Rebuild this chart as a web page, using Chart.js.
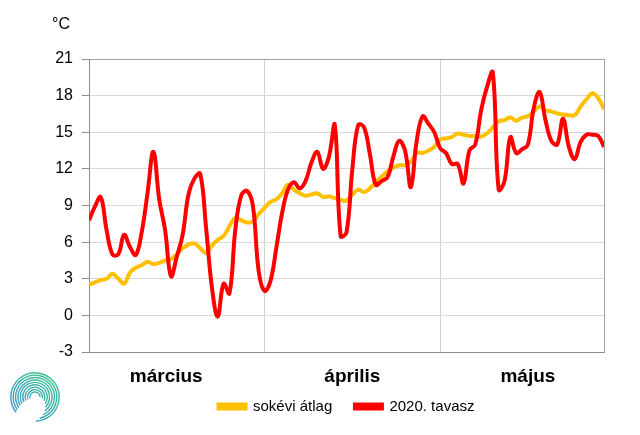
<!DOCTYPE html>
<html>
<head>
<meta charset="utf-8">
<script src="https://cdn.jsdelivr.net/npm/chart.js@4.4.1/dist/chart.umd.min.js"></script>
<style>
  body { margin: 0; background: #fff; }
  #wrap { width: 640px; height: 435px; position: relative; }
</style>
</head>
<body>
<div id="wrap"><canvas id="myChart"></canvas></div>
<script>
// day index 1 = március 1.
var avgTemp = [2.5, 2.7, 2.9, 3.0, 3.4, 3.0, 2.6, 3.5, 3.9, 4.1,
               4.4, 4.2, 4.3, 4.5, 4.6, 5.0, 5.5, 5.8, 5.9, 5.5,
               5.1, 5.7, 6.2, 6.5, 7.3, 8.0, 7.8, 7.6, 7.7, 8.3,
               8.8, 9.3, 9.5, 10.0, 10.7, 10.3, 10.0, 9.8, 9.9, 10.0,
               9.7, 9.75, 9.6, 9.45, 9.4, 9.9, 10.3, 10.1, 10.4, 10.9,
               11.35, 11.8, 12.1, 12.3, 12.3, 12.6, 13.3, 13.3, 13.5, 13.8,
               14.4, 14.5, 14.6, 14.9, 14.8, 14.7, 14.7, 14.65, 14.9, 15.4,
               15.9, 16.0, 16.2, 15.95, 16.2, 16.3, 16.7, 17.1, 16.8, 16.7,
               16.55, 16.45, 16.4, 16.4, 17.1, 17.7, 18.2, 17.8, 16.9];
var temp2020 = [7.8, 8.9, 9.7, 7.0, 5.0, 5.0, 6.6, 5.6, 4.95, 6.8,
                10.0, 13.4, 9.5, 7.0, 3.2, 4.8, 6.6, 9.9, 11.2, 11.6,
                7.2, 2.3, -0.1, 2.6, 1.8, 7.0, 9.8, 10.2, 9.0, 3.6,
                2.0, 2.8, 5.5, 8.4, 10.3, 10.9, 10.4, 11.0, 12.5, 13.4,
                12.0, 13.0, 15.6, 6.5, 6.8, 12.0, 15.6, 15.4, 13.2, 10.7,
                11.0, 11.3, 13.0, 14.3, 13.5, 10.5, 14.3, 16.3, 15.7, 15.0,
                13.7, 13.3, 12.4, 12.4, 10.8, 13.5, 14.0, 16.8, 18.7, 19.9,
                10.3, 11.0, 14.6, 13.3, 13.6, 14.0, 17.0, 18.3, 16.0, 14.3,
                14.0, 16.1, 13.8, 12.8, 14.2, 14.8, 14.8, 14.7, 13.8];

var monthNames = ['március', 'április', 'május'];
var monthLabelAt = [14.2, 46, 76];
var monthStarts = [31, 61];
var seriesNames = ['sokévi átlag', '2020. tavasz'];

var FONT = '"Liberation Sans", Arial, sans-serif';

function toPoints(arr) {
  return arr.map(function (v, i) { return { x: i + 1, y: v }; });
}

var extras = {
  id: 'extras',
  afterDraw: function (chart) {
    var ctx = chart.ctx;
    var area = chart.chartArea;
    ctx.save();
    ctx.fillStyle = '#000';
    ctx.font = '16px ' + FONT;
    ctx.textBaseline = 'middle';
    ctx.textAlign = 'left';
    ctx.fillText('°C', area.left - 37, area.top - 34);

    // spiral logo, bottom left
    var cx = 35, cy = 397;
    var grad = ctx.createLinearGradient(cx + 20, cy - 24, cx - 20, cy + 24);
    grad.addColorStop(0, '#3fc48a');
    grad.addColorStop(1, '#3a94d4');
    ctx.strokeStyle = grad;
    ctx.lineWidth = 1.4;
    for (var i = 0; i < 9; i++) {
      var r = 5 + i * 2.4;
      var a0 = (165 - i * 3) * Math.PI / 180;
      var a1 = (360 + i * 11) * Math.PI / 180;
      ctx.beginPath();
      ctx.arc(cx, cy, r, a0, a1);
      ctx.stroke();
    }
    ctx.restore();
  }
};

new Chart('myChart', {
  type: 'line',
  data: {
    datasets: [{
      label: seriesNames[0],
      data: toPoints(avgTemp),
      borderColor: '#FFC000',
      backgroundColor: '#FFC000',
      borderWidth: 4,
      pointRadius: 0,
      tension: 0.4,
      order: 1
    },
    {
      label: seriesNames[1],
      data: toPoints(temp2020),
      borderColor: '#FF0000',
      backgroundColor: '#FF0000',
      borderWidth: 4,
      pointRadius: 0,
      tension: 0.4,
      order: 0
    }]
  },
  options: {
    responsive: true,
    maintainAspectRatio: false,
    animation: false,
    layout: { padding: { top: 59, right: 36, bottom: 11, left: 0 } },
    plugins: {
      tooltip: { enabled: false },
      legend: {
        position: 'bottom',
        fullSize: false,
        labels: {
          boxWidth: 27,
          boxHeight: 4,
          padding: 6,
          color: '#000',
          font: { family: FONT, size: 15 },
          sort: function (a, b) { return a.datasetIndex - b.datasetIndex; },
          generateLabels: function (chart) {
            var items = Chart.defaults.plugins.legend.labels.generateLabels(chart);
            items.forEach(function (it) {
              if (it.datasetIndex === 0) it.text = it.text + '    ';
            });
            return items;
          }
        }
      }
    },
    scales: {
      x: {
        type: 'linear',
        position: 'bottom',
        min: 1,
        max: 89,
        afterBuildTicks: function (scale) {
          scale.ticks = monthLabelAt.map(function (v) { return { value: v }; });
        },
        afterFit: function (scale) { scale.height = 41; },
        ticks: {
          autoSkip: false,
          maxRotation: 0,
          padding: 13,
          color: '#000',
          font: { family: FONT, size: 19, weight: 'bold' },
          callback: function (value, index) { return monthNames[index]; }
        },
        grid: { display: false, drawTicks: false },
        border: { color: '#8c8c8c' }
      },
      xMonths: {
        type: 'linear',
        position: 'top',
        min: 1,
        max: 89,
        afterBuildTicks: function (scale) {
          scale.ticks = monthStarts.map(function (v) { return { value: v }; });
        },
        afterFit: function (scale) { scale.height = 0; },
        ticks: { display: false },
        grid: { color: '#d0d0d0', drawTicks: false },
        border: { color: '#a0a0a0' }
      },
      y: {
        min: -3,
        max: 21,
        afterFit: function (scale) { scale.width = 89; },
        ticks: {
          stepSize: 3,
          padding: 9,
          color: '#000',
          font: { family: FONT, size: 16 }
        },
        grid: { color: '#d9d9d9', tickColor: '#8c8c8c', tickLength: 7 },
        border: { color: '#8c8c8c' }
      },
      yRight: {
        position: 'right',
        min: -3,
        max: 21,
        afterFit: function (scale) { scale.width = 0; },
        ticks: { display: false },
        grid: { display: false, drawTicks: false },
        border: { color: '#a0a0a0' }
      }
    }
  },
  plugins: [extras]
});
</script>
</body>
</html>
